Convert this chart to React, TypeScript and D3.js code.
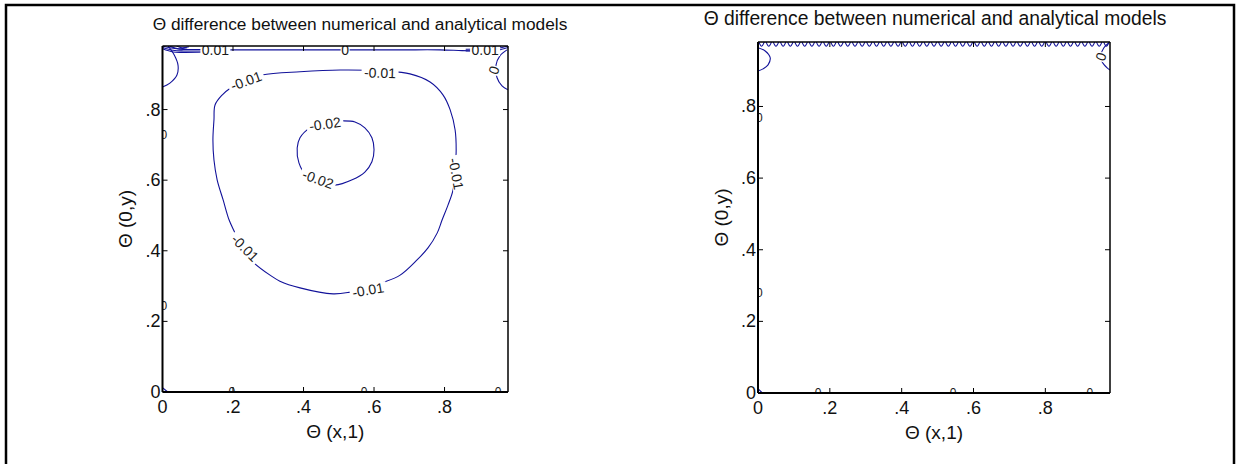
import React from 'react';
import * as d3 from 'd3';

const W = 1238;
const H = 464;
const TITLE = 'Θ difference between numerical and analytical models';
const X_LABEL = 'Θ (x,1)';
const Y_LABEL = 'Θ (0,y)';
const DOMAIN: [number, number] = [0, 0.98];
const TICKS = [0, 0.2, 0.4, 0.6, 0.8];
const TICK_LABELS = ['0', '.2', '.4', '.6', '.8'];

type Pt = [number, number];
type Contour = { level: number; closed: boolean; pts: Pt[] };
type Label = { text: string; x: number; y: number; angle: number; edge?: boolean };

// ---------- Left panel contours (data coords) ----------
const L_OUTER: Pt[] = [
  [0.504, 0.912], [0.631, 0.909], [0.702, 0.901], [0.759, 0.878], [0.796, 0.841], [0.816, 0.799],
  [0.830, 0.742], [0.833, 0.686], [0.830, 0.629], [0.824, 0.572], [0.810, 0.530], [0.793, 0.487],
  [0.779, 0.450], [0.753, 0.408], [0.722, 0.374], [0.674, 0.331], [0.623, 0.309], [0.583, 0.295],
  [0.532, 0.283], [0.484, 0.278], [0.390, 0.295], [0.333, 0.314], [0.305, 0.331], [0.257, 0.368],
  [0.228, 0.402], [0.206, 0.450], [0.189, 0.487], [0.172, 0.544], [0.155, 0.601], [0.146, 0.657],
  [0.143, 0.714], [0.146, 0.771], [0.149, 0.813], [0.169, 0.841], [0.197, 0.864], [0.234, 0.884],
  [0.282, 0.898], [0.390, 0.907],
];
const L_INNER: Pt[] = [
  [0.504, 0.768], [0.546, 0.765], [0.574, 0.748], [0.594, 0.720], [0.600, 0.686], [0.594, 0.652],
  [0.574, 0.623], [0.538, 0.601], [0.489, 0.586], [0.447, 0.595], [0.407, 0.615], [0.387, 0.649],
  [0.382, 0.691], [0.390, 0.720], [0.418, 0.748], [0.461, 0.765],
];
const L_TOP_ZERO: Pt[] = [
  [0.17, 0.969], [0.30, 0.969], [0.475, 0.969], [0.674, 0.969], [0.787, 0.969], [0.85, 0.967], [0.90, 0.966],
];
const L_TL_1: Pt[] = [[0.0, 0.98], [0.02, 0.975], [0.05, 0.971], [0.12, 0.970]];
const L_TL_2: Pt[] = [[0.0, 0.976], [0.03, 0.968], [0.06, 0.966], [0.12, 0.966]];
const L_TL_3: Pt[] = [[0.0, 0.972], [0.03, 0.963], [0.06, 0.962], [0.12, 0.963]];
const L_TL_4: Pt[] = [[0.02, 0.98], [0.045, 0.972], [0.07, 0.975]];
const L_TL_5: Pt[] = [[0.04, 0.98], [0.055, 0.975], [0.075, 0.978]];
const L_TL_BULGE: Pt[] = [[0.016, 0.98], [0.033, 0.955], [0.044, 0.926], [0.041, 0.898], [0.021, 0.875], [0.0, 0.864]];
const L_TR_1: Pt[] = [[0.98, 0.98], [0.96, 0.975], [0.93, 0.972], [0.86, 0.971]];
const L_TR_2: Pt[] = [[0.98, 0.976], [0.95, 0.968], [0.92, 0.966], [0.86, 0.966]];
const L_TR_3: Pt[] = [[0.96, 0.98], [0.935, 0.972], [0.91, 0.975]];
const L_TR_4: Pt[] = [[0.94, 0.98], [0.925, 0.975], [0.90, 0.978]];
const L_TR_BULGE: Pt[] = [[0.977, 0.969], [0.957, 0.952], [0.946, 0.926], [0.949, 0.890], [0.963, 0.867], [0.980, 0.856]];
const L_BL: Pt[] = [[0.0, 0.012], [0.015, 0.0]];

const LEFT_CONTOURS: Contour[] = [
  { level: -0.01, closed: true, pts: L_OUTER },
  { level: -0.02, closed: true, pts: L_INNER },
  { level: 0, closed: false, pts: L_TOP_ZERO },
  { level: 0.01, closed: false, pts: L_TL_1 },
  { level: 0.02, closed: false, pts: L_TL_2 },
  { level: 0.03, closed: false, pts: L_TL_3 },
  { level: 0.04, closed: false, pts: L_TL_4 },
  { level: 0.05, closed: false, pts: L_TL_5 },
  { level: 0, closed: false, pts: L_TL_BULGE },
  { level: 0.01, closed: false, pts: L_TR_1 },
  { level: 0.02, closed: false, pts: L_TR_2 },
  { level: 0.03, closed: false, pts: L_TR_3 },
  { level: 0.04, closed: false, pts: L_TR_4 },
  { level: 0, closed: false, pts: L_TR_BULGE },
  { level: 0, closed: false, pts: L_BL },
];

const LEFT_LABELS: Label[] = [
  { text: '-0.01', x: 0.237, y: 0.881, angle: -20 },
  { text: '-0.01', x: 0.617, y: 0.904, angle: 2 },
  { text: '-0.01', x: 0.833, y: 0.618, angle: 80 },
  { text: '-0.02', x: 0.461, y: 0.759, angle: -8 },
  { text: '-0.02', x: 0.441, y: 0.603, angle: 20 },
  { text: '-0.01', x: 0.234, y: 0.408, angle: 45 },
  { text: '-0.01', x: 0.583, y: 0.289, angle: -10 },
  { text: '0', x: 0.518, y: 0.968, angle: 0 },
  { text: '0.01', x: 0.150, y: 0.968, angle: 0 },
  { text: '0.01', x: 0.915, y: 0.968, angle: 0 },
  { text: '0', x: 0.940, y: 0.912, angle: -70 },
  { text: '0', x: 0.004, y: 0.728, angle: 0, edge: true },
  { text: '0', x: 0.004, y: 0.244, angle: 0, edge: true },
  { text: '0', x: 0.197, y: 0.0, angle: 0, edge: true },
  { text: '0', x: 0.572, y: 0.0, angle: 0, edge: true },
  { text: '0', x: 0.952, y: 0.0, angle: 0, edge: true },
];

// ---------- Right panel contours (data coords) ----------
const R_TOP_LOOPS_X = [
  0.01, 0.03, 0.05, 0.07, 0.09, 0.11, 0.13, 0.15, 0.17, 0.19, 0.21, 0.23, 0.25, 0.27, 0.29, 0.31, 0.33,
  0.35, 0.37, 0.39, 0.41, 0.43, 0.45, 0.47, 0.49, 0.51, 0.53, 0.55, 0.57, 0.59, 0.61, 0.63, 0.65, 0.67,
  0.69, 0.71, 0.73, 0.75, 0.77, 0.79, 0.81, 0.83, 0.85, 0.87, 0.89, 0.91, 0.93, 0.95, 0.97,
];
const R_TL_BULGE: Pt[] = [[0.0, 0.964], [0.020, 0.955], [0.034, 0.936], [0.028, 0.916], [0.014, 0.905], [0.0, 0.899]];
const R_TR_BULGE: Pt[] = [[0.977, 0.978], [0.963, 0.964], [0.955, 0.944], [0.958, 0.925], [0.972, 0.908], [0.980, 0.902]];
const R_BL: Pt[] = [[0.0, 0.012], [0.012, 0.0]];

const RIGHT_CONTOURS: Contour[] = [
  { level: 0, closed: false, pts: R_TL_BULGE },
  { level: 0, closed: false, pts: R_TR_BULGE },
  { level: 0, closed: false, pts: R_BL },
];

const RIGHT_LABELS: Label[] = [
  { text: '0', x: 0.955, y: 0.939, angle: -70 },
  { text: '0', x: 0.004, y: 0.768, angle: 0, edge: true },
  { text: '0', x: 0.004, y: 0.279, angle: 0, edge: true },
  { text: '0', x: 0.167, y: 0.0, angle: 0, edge: true },
  { text: '0', x: 0.543, y: 0.0, angle: 0, edge: true },
  { text: '0', x: 0.924, y: 0.0, angle: 0, edge: true },
];

const FONT = 'Liberation Sans, Arial, Helvetica, sans-serif';
const LINE = '#12129a';
const LABEL_SIZE = 14;

type PanelProps = {
  id: string;
  x0: number; x1: number; yTop: number; yBot: number;
  titleX: number; titleY: number; titleSize: number;
  contours: Contour[];
  labels: Label[];
  loopsX?: number[];
};

function Panel({ id, x0, x1, yTop, yBot, titleX, titleY, titleSize, contours, labels, loopsX }: PanelProps) {
  const xs = d3.scaleLinear().domain(DOMAIN).range([x0, x1]);
  const ys = d3.scaleLinear().domain(DOMAIN).range([yBot, yTop]);
  const openLine = d3.line<Pt>().x((d) => xs(d[0])).y((d) => ys(d[1])).curve(d3.curveCatmullRom.alpha(0.5));
  const closedLine = d3.line<Pt>().x((d) => xs(d[0])).y((d) => ys(d[1])).curve(d3.curveCatmullRomClosed.alpha(0.5));
  const cx = (x0 + x1) / 2;
  const tick = 5;
  return (
    <g>
      <defs>
        <clipPath id={`clip-${id}`}>
          <rect x={x0} y={yTop} width={x1 - x0} height={yBot - yTop} />
        </clipPath>
      </defs>
      <text x={titleX} y={titleY} textAnchor="middle" fontFamily={FONT} fontSize={titleSize} fill="#111">{TITLE}</text>
      <g clipPath={`url(#clip-${id})`}>
        {contours.map((c, i) => (
          <path key={i} d={(c.closed ? closedLine(c.pts) : openLine(c.pts)) || ''} fill="none" stroke={LINE} strokeWidth={1.1} />
        ))}
        {loopsX && loopsX.map((x, i) => (
          <path key={`v${i}`}
            d={openLine([[x - 0.0075, DOMAIN[1]], [x, DOMAIN[1] - 0.012], [x + 0.0075, DOMAIN[1]]]) || ''}
            fill="none" stroke={LINE} strokeWidth={1.1} />
        ))}
        {labels.map((l, i) => {
          const px = xs(l.x);
          const py = ys(l.y);
          const fs = l.edge ? 12 : LABEL_SIZE;
          const w = l.text.length * fs * 0.5 + 2;
          return (
            <g key={`l${i}`} transform={`rotate(${l.angle},${px},${py})`}>
              {!l.edge && <rect x={px - w / 2} y={py - fs * 0.42} width={w} height={fs * 0.84} fill="#fff" />}
              <text x={px} y={py} textAnchor="middle" dominantBaseline="central"
                fontFamily={FONT} fontSize={fs} fill="#1a1a1a">{l.text}</text>
            </g>
          );
        })}
      </g>
      {/* box */}
      <line x1={x0} x2={x1} y1={yTop} y2={yTop} stroke="#000" strokeWidth={1.5} />
      <line x1={x1} x2={x1} y1={yTop} y2={yBot} stroke="#000" strokeWidth={1.5} />
      <line x1={x0} x2={x1} y1={yBot} y2={yBot} stroke="#000" strokeWidth={1.8} />
      <line x1={x0} x2={x0} y1={yTop} y2={yBot} stroke="#000" strokeWidth={2} />
      {TICKS.map((t, i) => (
        <g key={`t${i}`}>
          <line x1={xs(t)} x2={xs(t)} y1={yBot} y2={yBot - tick} stroke="#000" strokeWidth={1} />
          <line x1={xs(t)} x2={xs(t)} y1={yTop} y2={yTop + tick} stroke="#000" strokeWidth={1} />
          <line x1={x0} x2={x0 + tick} y1={ys(t)} y2={ys(t)} stroke="#000" strokeWidth={1} />
          <line x1={x1} x2={x1 - tick} y1={ys(t)} y2={ys(t)} stroke="#000" strokeWidth={1} />
          <text x={xs(t)} y={yBot + 21} textAnchor="middle" fontFamily={FONT} fontSize={18} fill="#111">{TICK_LABELS[i]}</text>
          <text x={x0 - 2} y={ys(t) + 6} textAnchor="end" fontFamily={FONT} fontSize={18} fill="#111">{TICK_LABELS[i]}</text>
        </g>
      ))}
      <text x={cx} y={yBot + 46} textAnchor="middle" fontFamily={FONT} fontSize={19} fill="#111">{X_LABEL}</text>
      <text x={0} y={0} transform={`translate(${x0 - 30.5},${(yTop + yBot) / 2}) rotate(-90)`} textAnchor="middle"
        fontFamily={FONT} fontSize={19} fill="#111">{Y_LABEL}</text>
    </g>
  );
}

export default function App() {
  return (
    <svg width={W} height={H} style={{ position: 'absolute', left: 0, top: 0, background: '#fff' }}>
      <rect x={0} y={0} width={W} height={H} fill="#fff" />
      <rect x={6} y={5} width={1228} height={520} fill="none" stroke="#000" strokeWidth={2.5} />
      <Panel id="a" x0={162.5} x1={508} yTop={46} yBot={392} titleX={360} titleY={30} titleSize={17.3}
        contours={LEFT_CONTOURS} labels={LEFT_LABELS} />
      <Panel id="b" x0={758} x1={1110} yTop={42} yBot={393} titleX={935} titleY={25} titleSize={19.3}
        contours={RIGHT_CONTOURS} labels={RIGHT_LABELS} loopsX={R_TOP_LOOPS_X} />
    </svg>
  );
}
